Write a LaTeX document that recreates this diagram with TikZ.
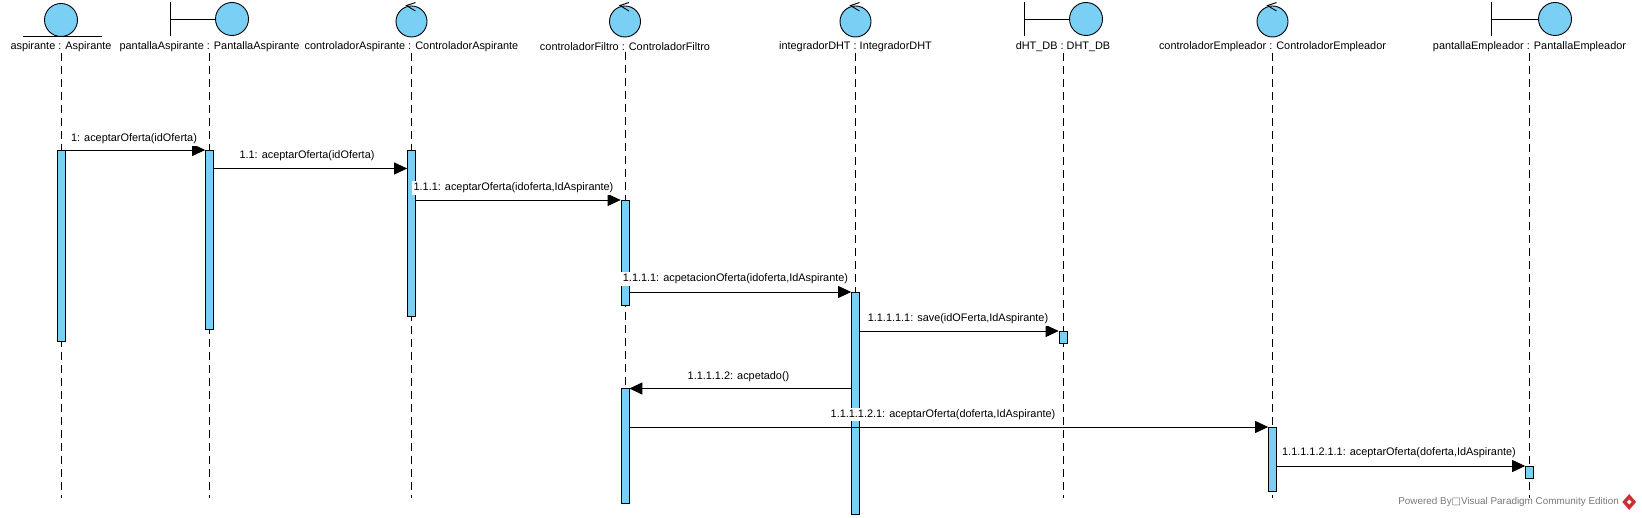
\documentclass[tikz,border=0pt]{standalone}
\usepackage{fontspec}
\setmainfont{Liberation Sans}
\newfontfamily\symbfont{DejaVu Sans}
\usetikzlibrary{arrows.meta, positioning, calc, shapes.geometric}
\definecolor{cBar}{RGB}{122,207,245}
\definecolor{cMark}{RGB}{120,120,120}
\definecolor{cLogo}{RGB}{200,50,50}
\tikzset{
	icon/.style={circle, draw=black, line width=0.9pt, fill=cBar, inner sep=0pt, minimum size=33pt},
	ctlicon/.style={icon, minimum size=31pt},
	part/.style={font=\fontsize{10.9}{12}\selectfont, inner sep=1pt, fill=white},
	msglabel/.style={font=\fontsize{10.9}{12}\selectfont, inner sep=1.5pt, fill=white},
	bar/.style={rectangle, draw=black, line width=0.7pt, fill=cBar, minimum width=8pt, inner sep=0pt},
	lifeline/.style={line width=0.7pt, dash pattern=on 8pt off 5pt},
	stroke/.style={line width=0.9pt},
	msg/.style={line width=0.8pt, -{Triangle[length=13pt, width=12pt]}},
	pics/ctlmark/.style={code={\draw[stroke] (4,-3) -- (-5,0) -- (4,5.5);}},
}
\begin{document}
\begin{tikzpicture}[x=1pt, y=-1pt]
	\useasboundingbox (0,0) rectangle (1642,518);
	\coordinate (lifeEnd) at (0,498);
	% actors
	\node[icon] (icoAs) at (61,20) {};
	\draw[stroke] ($(icoAs.south)+(-38,0)$) -- ($(icoAs.south)+(41,0)$);
	\node[icon] (icoPa) at (232,19) {};
	\coordinate (wallPa) at (170.5,19);
	\draw[stroke] ($(wallPa)+(0,-17)$) -- ($(wallPa)+(0,17)$);
	\draw[stroke] (wallPa) -- (icoPa.west);
	\node[ctlicon] (icoCa) at (411.5,21.5) {};
	\pic at (icoCa.north) {ctlmark};
	\node[ctlicon] (icoFi) at (625,21.5) {};
	\pic at (icoFi.north) {ctlmark};
	\node[ctlicon] (icoIn) at (855.5,21.5) {};
	\pic at (icoIn.north) {ctlmark};
	\node[icon] (icoDb) at (1086,19) {};
	\coordinate (wallDb) at (1024,19);
	\draw[stroke] ($(wallDb)+(0,-17)$) -- ($(wallDb)+(0,17)$);
	\draw[stroke] (wallDb) -- (icoDb.west);
	\node[ctlicon] (icoCe) at (1272.5,21.5) {};
	\pic at (icoCe.north) {ctlmark};
	\node[icon] (icoPe) at (1555,19) {};
	\coordinate (wallPe) at (1491,19);
	\draw[stroke] ($(wallPe)+(0,-17)$) -- ($(wallPe)+(0,17)$);
	\draw[stroke] (wallPe) -- (icoPe.west);
	% names
	\node[part] (lAs) at (61,46.5) {aspirante : Aspirante};
	\node[part] (lPa) at (209.5,46.5) {pantallaAspirante : PantallaAspirante};
	\node[part] (lCa) at (411.5,46.5) {controladorAspirante : ControladorAspirante};
	\node[part] (lFi) at (625,46.5) {controladorFiltro : ControladorFiltro};
	\node[part] (lIn) at (855.5,46.5) {integradorDHT : IntegradorDHT};
	\node[part] (lDb) at (1063,46.5) {dHT\_DB : DHT\_DB};
	\node[part] (lCe) at (1272.5,46.5) {controladorEmpleador : ControladorEmpleador};
	\node[part] (lPe) at (1529.5,46.5) {pantallaEmpleador : PantallaEmpleador};
	% lifelines
	\draw[lifeline] (lAs.south) -- (lAs.south |- lifeEnd);
	\draw[lifeline] (lPa.south) -- (lPa.south |- lifeEnd);
	\draw[lifeline] (lCa.south) -- (lCa.south |- lifeEnd);
	\draw[lifeline] (lFi.south) -- (lFi.south |- lifeEnd);
	\draw[lifeline] (lIn.south) -- (lIn.south |- lifeEnd);
	\draw[lifeline] (lDb.south) -- (lDb.south |- lifeEnd);
	\draw[lifeline] (lCe.south) -- (lCe.south |- lifeEnd);
	\draw[lifeline] (lPe.south) -- (lPe.south |- lifeEnd);
	% activations
	\node[bar, minimum height=191pt, anchor=north] (aAs) at (61,150) {};
	\node[bar, minimum height=179pt, anchor=north] (aPa) at (209.5,150) {};
	\node[bar, minimum height=166pt, anchor=north] (aCa) at (411.5,150) {};
	\node[bar, minimum height=105pt, anchor=north] (aFi) at (625,200) {};
	\node[bar, minimum height=222pt, anchor=north] (aIn) at (855.5,292) {};
	\node[bar, minimum height=12pt, anchor=north] (aDb) at (1063,331) {};
	\node[bar, minimum height=114pt, anchor=north] (aFj) at (625,388.5) {};
	\node[bar, minimum height=64pt, anchor=north] (aCe) at (1272.5,427) {};
	\node[bar, minimum height=12pt, anchor=north] (aPe) at (1529.5,466) {};
	% messages
	\coordinate (m2) at (0,168.5);
	\draw[msg] (aAs.north east) -- (aPa.north west);
	\draw[msg] (aPa.east |- m2) -- (aCa.west |- m2);
	\draw[msg] (aCa.east |- aFi.north) -- (aFi.north west);
	\draw[msg] (aFi.east |- aIn.north) -- (aIn.north west);
	\draw[msg] (aIn.east |- aDb.north) -- (aDb.north west);
	\draw[msg] (aIn.west |- aFj.north) -- (aFj.north east);
	\draw[msg] (aFj.east |- aCe.north) -- (aCe.north west);
	\draw[msg] (aCe.east |- aPe.north) -- (aPe.north west);
	\node[msglabel] (t1) at (134,139) {1: aceptarOferta(idOferta)};
	\node[msglabel] (t2) at (307,156) {1.1: aceptarOferta(idOferta)};
	\node[msglabel] (t3) at (513.5,188) {1.1.1: aceptarOferta(idoferta,IdAspirante)};
	\node[msglabel] (t4) at (735.5,279) {1.1.1.1: acpetacionOferta(idoferta,IdAspirante)};
	\node[msglabel] (t5) at (958,319) {1.1.1.1.1: save(idOFerta,IdAspirante)};
	\node[msglabel] (t6) at (738.5,377) {1.1.1.1.2: acpetado()};
	\node[msglabel] (t7) at (943,414.5) {1.1.1.1.2.1: aceptarOferta(doferta,IdAspirante)};
	\node[msglabel] (t8) at (1399,453) {1.1.1.1.2.1.1: aceptarOferta(doferta,IdAspirante)};
	% watermark
	\node[font=\fontsize{9.9}{11}\selectfont, text=cMark, inner sep=0pt, anchor=east] (mark) at (1619,502) {Powered By{\symbfont □}Visual Paradigm Community Edition};
	\node[diamond, fill=cLogo, inner sep=0pt, minimum width=14pt, minimum height=16pt, right=3pt of mark] (logo) {};
	\node[diamond, fill=white, inner sep=0pt, minimum size=5pt] (logoIn) at (logo) {};
\end{tikzpicture}
\end{document}
